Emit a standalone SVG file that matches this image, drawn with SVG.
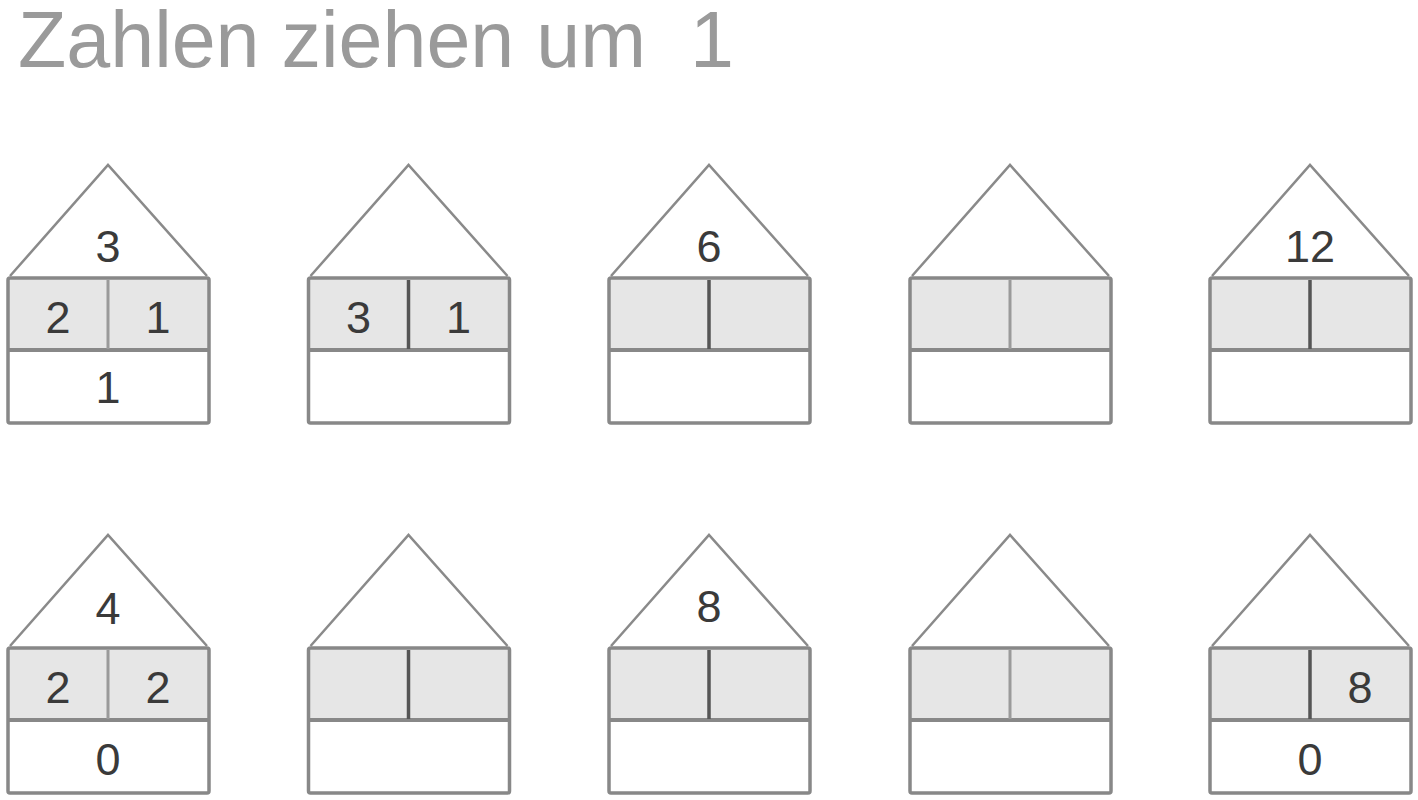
<svg xmlns="http://www.w3.org/2000/svg" width="1418" height="800" viewBox="0 0 1418 800">
<style>
.title{font-family:"Liberation Sans",Arial,sans-serif;font-size:79px;fill:#9a9a9a;white-space:pre}
.num{font-family:"Liberation Sans",Arial,sans-serif;font-size:45px;fill:#3a3a3a;text-anchor:middle}
.roof{fill:none;stroke:#8a8a8a;stroke-width:2.5;stroke-linejoin:miter}
.top{fill:#e6e6e6;stroke:none}
.body{fill:none;stroke:#888;stroke-width:3.5}
.mid{stroke:#888;stroke-width:4}
.dl{stroke:#9a9a9a;stroke-width:3}
.dd{stroke:#555;stroke-width:3.5}
</style>
<defs>
<g id="house">
<polyline class="roof" points="2,111 100,0 199,111"/>
<rect class="top" x="0" y="113" width="201" height="72"/>
<rect class="body" x="0" y="113" width="201" height="145" rx="2"/>
<line class="mid" x1="0" y1="185" x2="201" y2="185"/>
</g>
</defs>
<rect width="1418" height="800" fill="#fff"/>
<text class="title" x="18" y="67">Zahlen ziehen um  1</text>

<g id="house1" transform="translate(8,165)">
<use href="#house"/><line class="dl" x1="100" y1="115" x2="100" y2="184"/>
<text class="num" x="100" y="97">3</text>
<text class="num" x="50" y="168">2</text>
<text class="num" x="150" y="168">1</text>
<text class="num" x="100" y="238">1</text>
</g>
<g id="house2" transform="translate(308.5,165)">
<use href="#house"/><line class="dd" x1="100" y1="115" x2="100" y2="184"/>
<text class="num" x="50" y="168">3</text>
<text class="num" x="150" y="168">1</text>
</g>
<g id="house3" transform="translate(609,165)">
<use href="#house"/><line class="dd" x1="100" y1="115" x2="100" y2="184"/>
<text class="num" x="100" y="97">6</text>
</g>
<g id="house4" transform="translate(910,165)">
<use href="#house"/><line class="dl" x1="100" y1="115" x2="100" y2="184"/>
</g>
<g id="house5" transform="translate(1210,165)">
<use href="#house"/><line class="dd" x1="100" y1="115" x2="100" y2="184"/>
<text class="num" x="100" y="97">12</text>
</g>

<g id="house6" transform="translate(8,535)">
<use href="#house"/><line class="dl" x1="100" y1="115" x2="100" y2="184"/>
<text class="num" x="100" y="89">4</text>
<text class="num" x="50" y="168">2</text>
<text class="num" x="150" y="168">2</text>
<text class="num" x="100" y="240">0</text>
</g>
<g id="house7" transform="translate(308.5,535)">
<use href="#house"/><line class="dd" x1="100" y1="115" x2="100" y2="184"/>
</g>
<g id="house8" transform="translate(609,535)">
<use href="#house"/><line class="dd" x1="100" y1="115" x2="100" y2="184"/>
<text class="num" x="100" y="87">8</text>
</g>
<g id="house9" transform="translate(910,535)">
<use href="#house"/><line class="dl" x1="100" y1="115" x2="100" y2="184"/>
</g>
<g id="house10" transform="translate(1210,535)">
<use href="#house"/><line class="dd" x1="100" y1="115" x2="100" y2="184"/>
<text class="num" x="150" y="168">8</text>
<text class="num" x="100" y="240">0</text>
</g>
<g id="connectors"/>
</svg>
